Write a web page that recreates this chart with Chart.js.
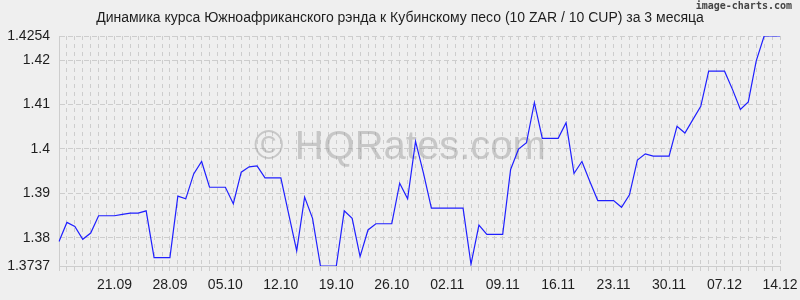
<!DOCTYPE html>
<html lang="ru">
<head>
<meta charset="UTF-8">
<title>ZAR / CUP</title>
<script src="https://cdn.jsdelivr.net/npm/chart.js@4/dist/chart.umd.min.js"></script>
<style>
  html, body { margin: 0; padding: 0; background: #efefef; }
  canvas { display: block; }
</style>
</head>
<body>
<canvas id="chart" width="800" height="300"></canvas>
<script>
const titleText = 'Динамика курса Южноафриканского рэнда к Кубинскому песо (10 ZAR / 10 CUP) за 3 месяца';

const dates = [
  '14.09','15.09','16.09','17.09','18.09','19.09','20.09','21.09','22.09','23.09','24.09','25.09','26.09','27.09','28.09','29.09','30.09',
  '01.10','02.10','03.10','04.10','05.10','06.10','07.10','08.10','09.10','10.10','11.10','12.10','13.10','14.10','15.10','16.10',
  '17.10','18.10','19.10','20.10','21.10','22.10','23.10','24.10','25.10','26.10','27.10','28.10','29.10','30.10','31.10',
  '01.11','02.11','03.11','04.11','05.11','06.11','07.11','08.11','09.11','10.11','11.11','12.11','13.11','14.11','15.11',
  '16.11','17.11','18.11','19.11','20.11','21.11','22.11','23.11','24.11','25.11','26.11','27.11','28.11','29.11','30.11',
  '01.12','02.12','03.12','04.12','05.12','06.12','07.12','08.12','09.12','10.12','11.12','12.12','13.12','14.12'
];

const rates = [
  1.3792, 1.3835, 1.3826, 1.3797, 1.3811, 1.3850, 1.3850, 1.3850, 1.3853, 1.3856,
  1.3856, 1.3861, 1.3756, 1.3756, 1.3756, 1.3894, 1.3888, 1.3944, 1.3972, 1.3914,
  1.3914, 1.3914, 1.3877, 1.3948, 1.3960, 1.3962, 1.3935, 1.3935, 1.3935, 1.3853,
  1.3771, 1.3892, 1.3844, 1.3737, 1.3737, 1.3737, 1.3861, 1.3844, 1.3758, 1.3818,
  1.3832, 1.3832, 1.3832, 1.3923, 1.3888, 1.4017, 1.3946, 1.3867, 1.3867, 1.3867,
  1.3867, 1.3867, 1.3741, 1.3829, 1.3808, 1.3808, 1.3808, 1.3954, 1.4000, 1.4014,
  1.4104, 1.4024, 1.4024, 1.4024, 1.4059, 1.3945, 1.3972, 1.3927, 1.3884, 1.3884,
  1.3884, 1.3869, 1.3897, 1.3975, 1.3989, 1.3984, 1.3984, 1.3984, 1.4051, 1.4036,
  1.4066, 1.4096, 1.4175, 1.4175, 1.4175, 1.4134, 1.4089, 1.4106, 1.4198, 1.4254,
  1.4254, 1.4254
];

const yTickValues = [1.3737, 1.38, 1.39, 1.40, 1.41, 1.42, 1.4254];
const yTickLabels = ['1.3737', '1.38', '1.39', '1.4', '1.41', '1.42', '1.4254'];

const font = '"Liberation Sans", Arial, sans-serif';
const gridColor = '#cdcdcd';

// background, title, watermark and credit
const decor = {
  id: 'decor',
  beforeDraw(chart) {
    const ctx = chart.ctx;
    ctx.save();
    ctx.fillStyle = '#efefef';
    ctx.fillRect(0, 0, chart.width, chart.height);
    ctx.fillStyle = '#1e1e1e';
    ctx.font = '14px ' + font;
    ctx.textAlign = 'center';
    ctx.textBaseline = 'middle';
    ctx.fillText(titleText, 400, 18);
    ctx.fillStyle = '#444';
    ctx.font = 'bold 10px "DejaVu Sans Mono", monospace';
    ctx.textAlign = 'right';
    ctx.textBaseline = 'top';
    ctx.fillText('image-charts.com', 792, 1);
    ctx.restore();
  },
  beforeDatasetsDraw(chart) {
    const ctx = chart.ctx;
    ctx.save();
    ctx.fillStyle = 'rgba(150,150,150,0.45)';
    ctx.font = '40px ' + font;
    ctx.textAlign = 'center';
    ctx.textBaseline = 'middle';
    ctx.fillText('© HQRates.com', 400, 148);
    ctx.restore();
  }
};

new Chart(document.getElementById('chart'), {
  type: 'line',
  data: {
    labels: dates,
    datasets: [{
      data: rates,
      borderColor: '#1f1fff',
      borderWidth: 1.2,
      pointRadius: 0,
      tension: 0,
      fill: false
    }]
  },
  options: {
    responsive: false,
    animation: false,
    layout: { padding: { left: 0, top: 36, right: 20, bottom: 0 } },
    plugins: { legend: { display: false }, tooltip: { enabled: false } },
    scales: {
      x: {
        type: 'category',
        offset: false,
        afterFit(scale) {
          scale.height = 34;
          scale.paddingLeft = 0;
          scale.paddingRight = 0;
        },
        grid: { color: gridColor, drawTicks: true, tickLength: 5 },
        border: { display: true, color: gridColor, dash: [4, 4] },
        ticks: {
          autoSkip: false,
          maxRotation: 0,
          padding: 6,
          color: '#1e1e1e',
          font: { family: font, size: 14 },
          callback(value, index) {
            return (index > 0 && index % 7 === 0) ? dates[index] : '';
          }
        }
      },
      y: {
        min: 1.3737,
        max: 1.4254,
        afterFit(scale) { scale.width = 59; },
        afterBuildTicks(scale) {
          scale.ticks = yTickValues.map(v => ({ value: v }));
        },
        grid: { color: gridColor, drawTicks: false },
        border: { display: true, color: gridColor, dash: [5, 3] },
        ticks: {
          padding: 9,
          color: '#1e1e1e',
          font: { family: font, size: 14 },
          callback(value) {
            const i = yTickValues.indexOf(value);
            return i >= 0 ? yTickLabels[i] : '';
          }
        }
      }
    }
  },
  plugins: [decor]
});
</script>
</body>
</html>
